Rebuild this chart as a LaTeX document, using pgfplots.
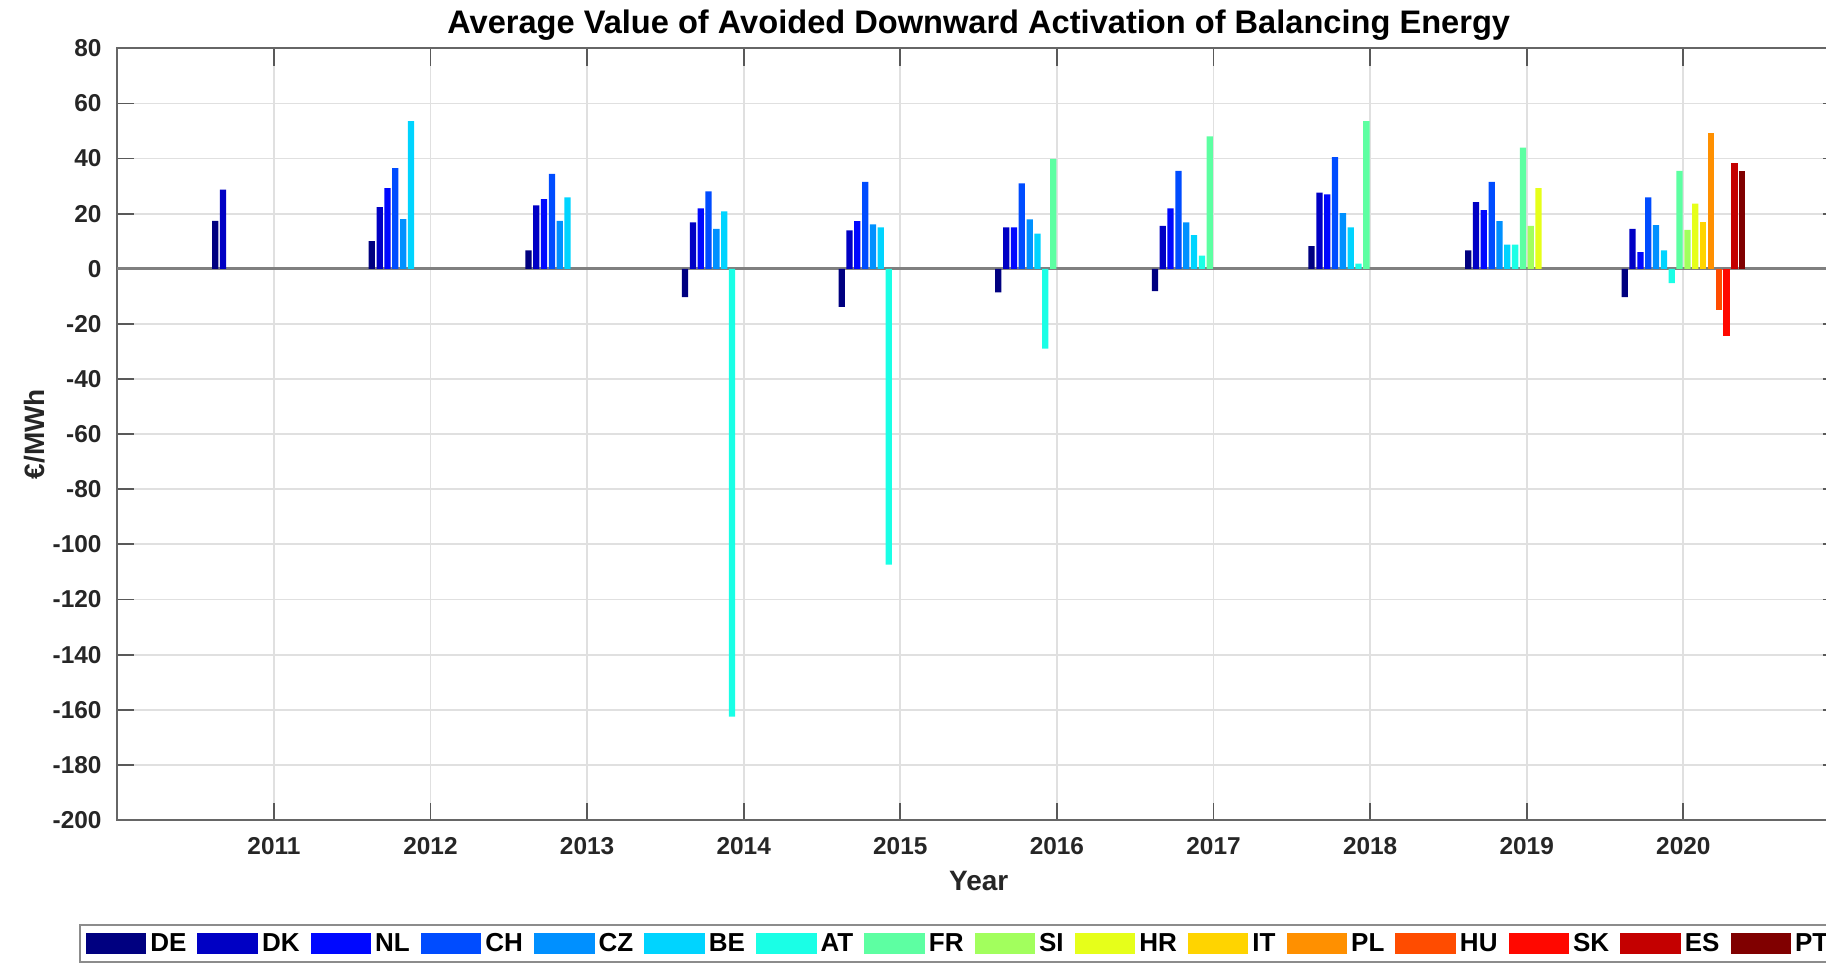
\documentclass[border=0pt]{standalone}
\usepackage{pgfplots}
\pgfplotsset{compat=1.18}
\usepackage{pgfplotstable}
\usepackage{fontspec}
\setmainfont{Liberation Sans}
\definecolor{c1}{HTML}{000080}
\definecolor{c2}{HTML}{0000C4}
\definecolor{c3}{HTML}{0008FF}
\definecolor{c4}{HTML}{004CFF}
\definecolor{c5}{HTML}{0090FF}
\definecolor{c6}{HTML}{00D4FF}
\definecolor{c7}{HTML}{1AFFE6}
\definecolor{c8}{HTML}{5DFFA2}
\definecolor{c9}{HTML}{A2FF5D}
\definecolor{c10}{HTML}{E6FF1A}
\definecolor{c11}{HTML}{FFD400}
\definecolor{c12}{HTML}{FF9000}
\definecolor{c13}{HTML}{FF4C00}
\definecolor{c14}{HTML}{FF0800}
\definecolor{c15}{HTML}{C40000}
\definecolor{c16}{HTML}{800000}
\pgfplotstableread{
year DE DK NL CH CZ BE AT FR SI HR IT PL HU SK ES PT
2011 17.4 28.7 nan nan nan nan nan nan nan nan nan nan nan nan nan nan
2012 10.0 22.4 29.3 36.5 18.0 53.6 nan nan nan nan nan nan nan nan nan nan
2013 6.7 23.0 25.3 34.4 17.4 25.9 nan nan nan nan nan nan nan nan nan nan
2014 -10.3 16.8 21.9 28.1 14.5 20.8 -162.5 nan nan nan nan nan nan nan nan nan
2015 -13.8 13.9 17.3 31.5 16.1 15.0 -107.3 nan nan nan nan nan nan nan nan nan
2016 -8.6 15.0 15.0 31.0 17.9 12.8 -29.0 39.9 nan nan nan nan nan nan nan nan
2017 -8.1 15.6 21.9 35.5 16.8 12.2 4.8 48.0 nan nan nan nan nan nan nan nan
2018 8.2 27.6 27.0 40.5 20.2 15.0 1.9 53.6 nan nan nan nan nan nan nan nan
2019 6.7 24.2 21.3 31.5 17.3 8.8 8.8 44.0 15.6 29.3 nan nan nan nan nan nan
2020 -10.3 14.5 6.0 25.9 15.8 6.7 -5.2 35.5 14.1 23.6 17.0 49.1 -14.9 -24.5 38.3 35.5
}\datatable
\pgfplotsset{bb/.style={ybar, bar width=0.04, bar shift=0pt, fill=#1, draw=none,
  legend image code/.code={\fill[#1] (0pt,-5.4pt) rectangle (30.3pt,5.4pt);}}}
\begin{document}
\begin{tikzpicture}
\useasboundingbox (-58.65pt,-71.5pt) rectangle (854.35pt,410pt);
\clip (-58.65pt,-71.5pt) rectangle (854.35pt,410pt);
\begin{axis}[
  scale only axis, width=861.4pt, height=385.85pt,
  xmin=2010, xmax=2021, ymin=-200, ymax=80,
  xtick={2011,2012,...,2020}, ytick={-200,-180,...,80},
  /pgf/number format/1000 sep={},
  /pgf/number format/assume math mode=true,
  grid=major, major grid style={black!12, line width=0.9pt},
  axis line style={black!60, line width=0.9pt},
  tick align=inside, major tick length=8.6pt,
  tick style={black!65, line width=0.9pt},
  ticklabel style={font=\fontsize{12.2}{14}\selectfont\bfseries, text=black!85},
  xticklabel style={anchor=base, yshift=-17pt},
  yticklabel style={anchor=east, inner xsep=0pt, xshift=-7.7pt},
  extra y ticks={0}, extra y tick labels={},
  extra y tick style={major grid style={black!50, line width=1.3pt}, major tick length=0pt},
  title={Average Value of Avoided Downward Activation of Balancing Energy},
  title style={at={(axis description cs:0.5,1)}, anchor=base, yshift=1.5pt, font=\fontsize{16.3}{19}\selectfont\bfseries},
  xlabel={Year},
  xlabel style={at={(axis description cs:0.5,0)}, anchor=base, yshift=-35pt, font=\fontsize{14}{16}\selectfont\bfseries, text=black!85},
  ylabel={€/MWh},
  ylabel style={at={(axis description cs:-0.0425,0.5)}, anchor=base, font=\fontsize{14}{16}\selectfont\bfseries, text=black!85},
  legend columns=16, legend cell align=left,
  legend style={at={(axis description cs:0,0)}, anchor=north west, xshift=-19.3pt, yshift=-52pt,
    draw=black!45, line width=1pt, fill=white,
    font=\fontsize{13}{15}\selectfont\bfseries,
    inner xsep=3pt, inner ysep=3pt,
    nodes={inner xsep=1.5pt, inner ysep=1pt},
    /tikz/every odd column/.append style={column sep=0.5pt},
    /tikz/every even column/.append style={column sep=4pt}},
]
\addplot[bb=c1] table[x expr=\thisrow{year}-0.375, y=DE]{\datatable}; \addlegendentry{DE}
\addplot[bb=c2] table[x expr=\thisrow{year}-0.325, y=DK]{\datatable}; \addlegendentry{DK}
\addplot[bb=c3] table[x expr=\thisrow{year}-0.275, y=NL]{\datatable}; \addlegendentry{NL}
\addplot[bb=c4] table[x expr=\thisrow{year}-0.225, y=CH]{\datatable}; \addlegendentry{CH}
\addplot[bb=c5] table[x expr=\thisrow{year}-0.175, y=CZ]{\datatable}; \addlegendentry{CZ}
\addplot[bb=c6] table[x expr=\thisrow{year}-0.125, y=BE]{\datatable}; \addlegendentry{BE}
\addplot[bb=c7] table[x expr=\thisrow{year}-0.075, y=AT]{\datatable}; \addlegendentry{AT}
\addplot[bb=c8] table[x expr=\thisrow{year}-0.025, y=FR]{\datatable}; \addlegendentry{FR}
\addplot[bb=c9] table[x expr=\thisrow{year}+0.025, y=SI]{\datatable}; \addlegendentry{SI}
\addplot[bb=c10] table[x expr=\thisrow{year}+0.075, y=HR]{\datatable}; \addlegendentry{HR}
\addplot[bb=c11] table[x expr=\thisrow{year}+0.125, y=IT]{\datatable}; \addlegendentry{IT}
\addplot[bb=c12] table[x expr=\thisrow{year}+0.175, y=PL]{\datatable}; \addlegendentry{PL}
\addplot[bb=c13] table[x expr=\thisrow{year}+0.225, y=HU]{\datatable}; \addlegendentry{HU}
\addplot[bb=c14] table[x expr=\thisrow{year}+0.275, y=SK]{\datatable}; \addlegendentry{SK}
\addplot[bb=c15] table[x expr=\thisrow{year}+0.325, y=ES]{\datatable}; \addlegendentry{ES}
\addplot[bb=c16] table[x expr=\thisrow{year}+0.375, y=PT]{\datatable}; \addlegendentry{PT}
\end{axis}
\end{tikzpicture}
\end{document}
